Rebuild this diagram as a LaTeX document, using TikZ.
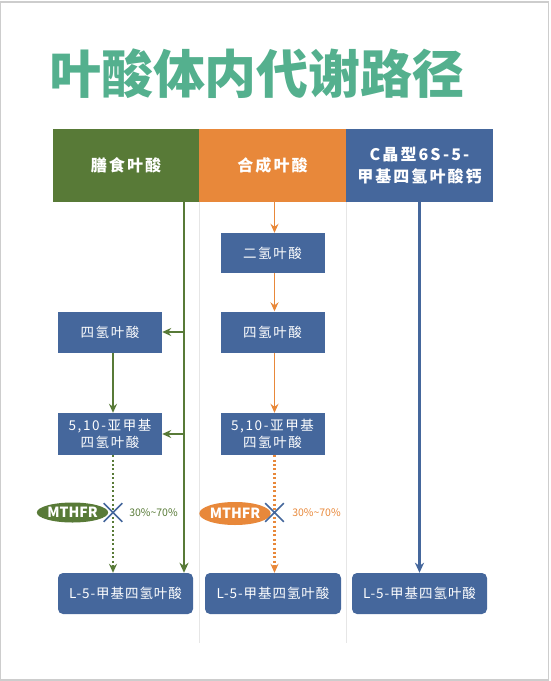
\documentclass[tikz,border=0pt]{standalone}
\usepackage{fontspec}
\setmainfont{Noto Sans CJK SC}
\usetikzlibrary{shapes.geometric,shapes.misc,arrows.meta}
\definecolor{titlegreen}{RGB}{84,176,142}
\definecolor{fgreen}{RGB}{88,122,55}
\definecolor{forange}{RGB}{232,136,58}
\definecolor{fblue}{RGB}{69,103,156}
\definecolor{frame}{RGB}{205,205,205}
\definecolor{divider}{RGB}{230,230,230}
\begin{document}
\begin{tikzpicture}[x=1pt,y=-1pt,
  header/.style={rectangle,minimum height=73pt,inner sep=0pt,text=white,font=\fontsize{16}{22}\selectfont\bfseries\addfontfeatures{LetterSpace=13},align=center},
  stepbox/.style={rectangle,fill=fblue,minimum width=104pt,minimum height=41pt,inner sep=0pt,text=white,font=\fontsize{13.5}{17}\selectfont\addfontfeatures{LetterSpace=12},align=center},
  endbox/.style={rectangle,rounded corners=5pt,fill=fblue,minimum width=135pt,minimum height=41pt,inner sep=0pt,text=white,font=\fontsize{13.5}{17}\selectfont\addfontfeatures{LetterSpace=7}},
  enzyme/.style={ellipse,minimum width=59pt,minimum height=20pt,inner sep=0pt,text=white,font=\fontsize{14}{15}\selectfont\bfseries},
  blocked/.style={cross out,draw=fblue,line width=1.6pt,minimum size=17pt,inner sep=0pt},
  pct/.style={font=\fontsize{10.5}{12}\selectfont},
  arr/.style={line width=1.8pt,-{Stealth[length=9pt,width=8pt,inset=3pt]}},
  dots/.style={line width=2.2pt,dash pattern=on 2pt off 2.4pt,-{Stealth[length=9pt,width=8pt,inset=3pt]}}
]
\useasboundingbox (0,0) rectangle (550,681);
\draw[frame,line width=1.2pt] (0.6,2) rectangle (548.5,680);
% title
\node[text=titlegreen,font=\fontsize{52}{56}\selectfont\bfseries] (title) at (257,74) {叶酸体内代谢路径};
% headers
\node[header,fill=fgreen,minimum width=146pt] (hg) at (126,165.5) {膳食叶酸};
\node[header,fill=forange,minimum width=147pt] (ho) at (272.5,165.5) {合成叶酸};
\node[header,fill=fblue,minimum width=147pt] (hb) at (419.5,165.5) {C晶型6S-5-\\甲基四氢叶酸钙};
% dividers
\coordinate (d1t) at (199.5,202);
\coordinate (d1b) at (199.5,643);
\coordinate (d2t) at (346,202);
\coordinate (d2b) at (346,643);
\draw[divider,line width=1pt] (d1t) -- (d1b);
\draw[divider,line width=1pt] (d2t) -- (d2b);
% green column boxes
\node[stepbox] (g1) at (110,332) {四氢叶酸};
\node[stepbox,minimum height=42pt] (g2) at (110,434) {5,10-亚甲基\\四氢叶酸};
% orange column boxes
\node[stepbox,minimum height=40pt] (o0) at (272.5,253) {二氢叶酸};
\node[stepbox] (o1) at (272.5,332) {四氢叶酸};
\node[stepbox,minimum height=42pt] (o2) at (272.5,434) {5,10-亚甲基\\四氢叶酸};
% bottom boxes
\node[endbox] (b1) at (125.5,593.5) {L-5-甲基四氢叶酸};
\node[endbox,minimum width=136pt] (b2) at (273,593.5) {L-5-甲基四氢叶酸};
\node[endbox] (b3) at (419.5,593.5) {L-5-甲基四氢叶酸};
% green connectors
\coordinate (gl) at (184,202);
\draw[fgreen,line width=2.6pt,-{Stealth[length=10pt,width=9pt,inset=3pt]}] (gl) -- (gl |- b1.north);
\draw[fgreen,arr] (gl |- g1.east) -- (g1.east);
\draw[fgreen,arr] (gl |- g2.east) -- (g2.east);
\draw[fgreen,arr] ([xshift=3pt]g1.south) -- ([xshift=3pt]g2.north);
\draw[fgreen,dots] ([xshift=3pt]g2.south) -- ([xshift=3pt]g2.south |- b1.north);
% orange connectors
\draw[forange,arr] ([xshift=2pt]ho.south) -- ([xshift=2pt]o0.north);
\draw[forange,arr] ([xshift=2pt]o0.south) -- ([xshift=2pt]o1.north);
\draw[forange,arr] ([xshift=2pt]o1.south) -- ([xshift=2pt]o2.north);
\draw[forange,dots] ([xshift=2pt]o2.south) -- ([xshift=2pt]o2.south |- b2.north);
% blue connector
\draw[fblue,line width=2.4pt,-{Stealth[length=10pt,width=9pt,inset=3pt]}] (hb.south) -- (b3.north);
% enzymes
\node[enzyme,fill=fgreen] (m1) at (72.5,512.5) {MTHFR};
\node[enzyme,fill=forange,minimum height=23pt] (m2) at (235,513.5) {MTHFR};
\node[blocked] (x1) at (113,512.5) {};
\node[blocked] (x2) at (274.5,512.5) {};
\node[pct,text=fgreen] (p1) at (153.5,513) {30\%\textasciitilde70\%};
\node[pct,text=forange] (p2) at (316.5,513) {30\%\textasciitilde70\%};
\end{tikzpicture}
\end{document}
